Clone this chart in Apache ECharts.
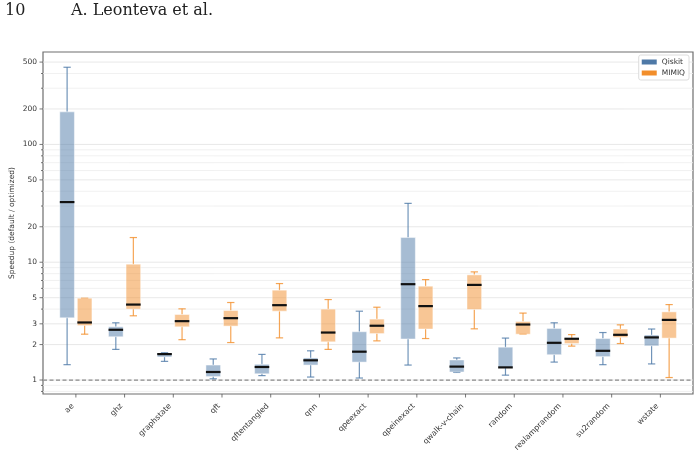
<!DOCTYPE html>
<html>
<head>
<meta charset="utf-8">
<script src="https://cdn.jsdelivr.net/npm/echarts@6/dist/echarts.min.js"></script>
<style>
  html, body { margin: 0; padding: 0; background: #fff; }
  #chart { width: 700px; height: 476px; }
</style>
</head>
<body>
<div id="chart"></div>
<script>
// Speedup per benchmark family, log scale, Qiskit vs MIMIQ
const categories = ['ae', 'ghz', 'graphstate', 'qft', 'qftentangled', 'qnn', 'qpeexact',
  'qpeinexact', 'qwalk-v-chain', 'random', 'realamprandom', 'su2random', 'wstate'];

// each row: [whisker low, q1, median, q3, whisker high]
const qiskitStats = [
  [1.35, 3.37, 32.4, 189, 452],
  [1.82, 2.33, 2.67, 2.83, 3.06],
  [1.44, 1.57, 1.66, 1.69, 1.71],
  [1.025, 1.07, 1.17, 1.34, 1.51],
  [1.09, 1.13, 1.29, 1.36, 1.65],
  [1.06, 1.34, 1.47, 1.54, 1.77],
  [1.04, 1.42, 1.74, 2.57, 3.84],
  [1.34, 2.23, 6.51, 16.2, 31.6],
  [1.16, 1.17, 1.30, 1.48, 1.54],
  [1.10, 1.27, 1.28, 1.90, 2.27],
  [1.42, 1.64, 2.07, 2.74, 3.06],
  [1.35, 1.58, 1.77, 2.25, 2.53],
  [1.37, 1.95, 2.30, 2.41, 2.71]
];
const mimiqStats = [
  [2.45, 2.90, 3.08, 4.95, 4.95],
  [3.51, 4.00, 4.37, 9.62, 16.2],
  [2.20, 2.83, 3.16, 3.60, 4.02],
  [2.08, 2.87, 3.35, 3.89, 4.55],
  [2.28, 3.84, 4.32, 5.79, 6.59],
  [1.82, 2.11, 2.53, 4.00, 4.82],
  [2.15, 2.48, 2.89, 3.29, 4.15],
  [2.25, 2.71, 4.24, 6.26, 7.12],
  [2.72, 3.97, 6.42, 7.81, 8.28],
  [2.45, 2.45, 2.96, 3.14, 3.70],
  [1.94, 2.04, 2.24, 2.27, 2.43],
  [2.04, 2.30, 2.42, 2.71, 2.94],
  [1.05, 2.27, 3.24, 3.79, 4.37]
];

const yMajorTicks = [1, 2, 3, 5, 10, 20, 50, 100, 200, 500];
const yMinorTicks = [0.8, 0.9, 4, 6, 7, 8, 9, 30, 40, 60, 70, 80, 90, 300, 400];
const baseline = 1;

const FONT = 'DejaVu Sans';
const QISKIT_COLOR = [78, 121, 167];
const MIMIQ_COLOR = [242, 142, 43];
const BOX_WIDTH = 0.3;
const BOX_OFFSET = 0.18;

function rgba(c, a) { return 'rgba(' + c[0] + ',' + c[1] + ',' + c[2] + ',' + a + ')'; }
function line(x1, y1, x2, y2, style) {
  return { type: 'line', shape: { x1: x1, y1: y1, x2: x2, y2: y2 }, style: style };
}

function renderYGrid(params, api) {
  const cs = params.coordSys;
  const v = api.value(1);
  const major = api.value(2) === 1;
  const y = api.coord([0, v])[1];
  const children = [
    line(cs.x, y, cs.x + cs.width, y, { stroke: major ? '#e2e2e2' : '#eeeeee', lineWidth: 0.8 }),
    line(cs.x - (major ? 3.5 : 2), y, cs.x, y, { stroke: '#555', lineWidth: 0.8 })
  ];
  if (major) {
    children.push({
      type: 'text', x: cs.x - 6, y: y,
      style: { text: String(v), align: 'right', verticalAlign: 'middle',
        fontSize: 7.5, fontFamily: FONT, fill: '#333' }
    });
  }
  return { type: 'group', children: children };
}

function renderBaseline(params, api) {
  const cs = params.coordSys;
  const y = api.coord([0, api.value(1)])[1];
  return line(cs.x, y, cs.x + cs.width, y, { stroke: '#8a8a8a', lineWidth: 1.2, lineDash: [4, 2.5] });
}

function renderXLabel(params, api) {
  const cs = params.coordSys;
  const i = api.value(0);
  const x = api.coord([i, 1])[0];
  const b = cs.y + cs.height;
  return {
    type: 'group',
    children: [
      line(x, b, x, b + 3.5, { stroke: '#555', lineWidth: 0.8 }),
      {
        type: 'text', x: x - 3, y: b + 11, rotation: Math.PI / 4,
        style: { text: categories[i], align: 'right', verticalAlign: 'middle',
          fontSize: 7.8, fontFamily: FONT, fill: '#333' }
      }
    ]
  };
}

function makeBoxRenderer(offset, color) {
  return function (params, api) {
    const i = api.value(0);
    const lo = api.value(1), q1 = api.value(2), med = api.value(3), q3 = api.value(4), hi = api.value(5);
    const xc = api.coord([i + offset, 1])[0];
    const half = api.coord([i + offset + BOX_WIDTH / 2, 1])[0] - xc;
    const cap = half / 2;
    const py = function (v) { return api.coord([i, v])[1]; };
    const whisk = { stroke: rgba(color, 0.8), lineWidth: 1.2 };
    return {
      type: 'group',
      children: [
        line(xc, py(lo), xc, py(q1), whisk),
        line(xc, py(q3), xc, py(hi), whisk),
        line(xc - cap, py(lo), xc + cap, py(lo), whisk),
        line(xc - cap, py(hi), xc + cap, py(hi), whisk),
        {
          type: 'rect',
          shape: { x: xc - half, y: py(q3), width: 2 * half, height: py(q1) - py(q3) },
          style: { fill: rgba(color, 0.5), stroke: 'rgba(255,255,255,0.45)', lineWidth: 1 }
        },
        line(xc - half, py(med), xc + half, py(med), { stroke: '#111', lineWidth: 2.2 })
      ]
    };
  };
}

const gridData = yMajorTicks.map(function (v) { return [0, v, 1]; })
  .concat(yMinorTicks.map(function (v) { return [0, v, 0]; }));
const qiskitData = qiskitStats.map(function (s, i) { return [i].concat(s); });
const mimiqData = mimiqStats.map(function (s, i) { return [i].concat(s); });

const chart = echarts.init(document.getElementById('chart'));
chart.setOption({
  animation: false,
  title: [
    { text: '10', left: 5, top: 3, padding: 0,
      textStyle: { fontFamily: 'DejaVu Serif', fontSize: 16, fontWeight: 'normal', color: '#222' } },
    { text: 'A. Leonteva et al.', left: 71, top: 3, padding: 0,
      textStyle: { fontFamily: 'DejaVu Serif', fontSize: 16, fontWeight: 'normal', color: '#222' } }
  ],
  legend: {
    data: ['Qiskit', 'MIMIQ'],
    orient: 'vertical', right: 11, top: 55,
    icon: 'rect', itemWidth: 15, itemHeight: 5, itemGap: 3,
    padding: [3, 4, 3, 3],
    borderColor: '#dcdcdc', borderWidth: 1, borderRadius: 2, backgroundColor: '#fff',
    textStyle: { fontFamily: FONT, fontSize: 7.5, color: '#333' }
  },
  grid: {
    left: 42, right: 7, top: 52, bottom: 82,
    show: true, borderColor: '#6e6e6e', borderWidth: 1.2, backgroundColor: 'transparent'
  },
  xAxis: {
    type: 'value', min: -0.675, max: 12.67,
    axisLine: { show: false }, axisTick: { show: false }, axisLabel: { show: false }, splitLine: { show: false }
  },
  yAxis: {
    type: 'log', logBase: 10, min: 0.761, max: 609,
    name: 'Speedup (default / optimized)', nameLocation: 'middle', nameGap: 27,
    nameTextStyle: { fontFamily: FONT, fontSize: 7.5, color: '#333' },
    axisLine: { show: false }, axisTick: { show: false }, axisLabel: { show: false }, splitLine: { show: false }
  },
  series: [
    { type: 'custom', name: 'ygrid', silent: true, z: 1, data: gridData,
      encode: { x: 0, y: 1 }, renderItem: renderYGrid },
    { type: 'custom', name: 'xlabels', silent: true, z: 1, data: categories.map(function (c, i) { return [i, 1]; }),
      encode: { x: 0, y: 1 }, renderItem: renderXLabel },
    { type: 'custom', name: 'baseline', silent: true, z: 2, data: [[0, baseline]],
      encode: { x: 0, y: 1 }, renderItem: renderBaseline },
    { type: 'custom', name: 'Qiskit', z: 3, data: qiskitData,
      itemStyle: { color: rgba(QISKIT_COLOR, 1) },
      encode: { x: 0, y: [1, 2, 3, 4, 5] }, renderItem: makeBoxRenderer(-BOX_OFFSET, QISKIT_COLOR) },
    { type: 'custom', name: 'MIMIQ', z: 3, data: mimiqData,
      itemStyle: { color: rgba(MIMIQ_COLOR, 1) },
      encode: { x: 0, y: [1, 2, 3, 4, 5] }, renderItem: makeBoxRenderer(BOX_OFFSET, MIMIQ_COLOR) }
  ]
});
</script>
</body>
</html>
